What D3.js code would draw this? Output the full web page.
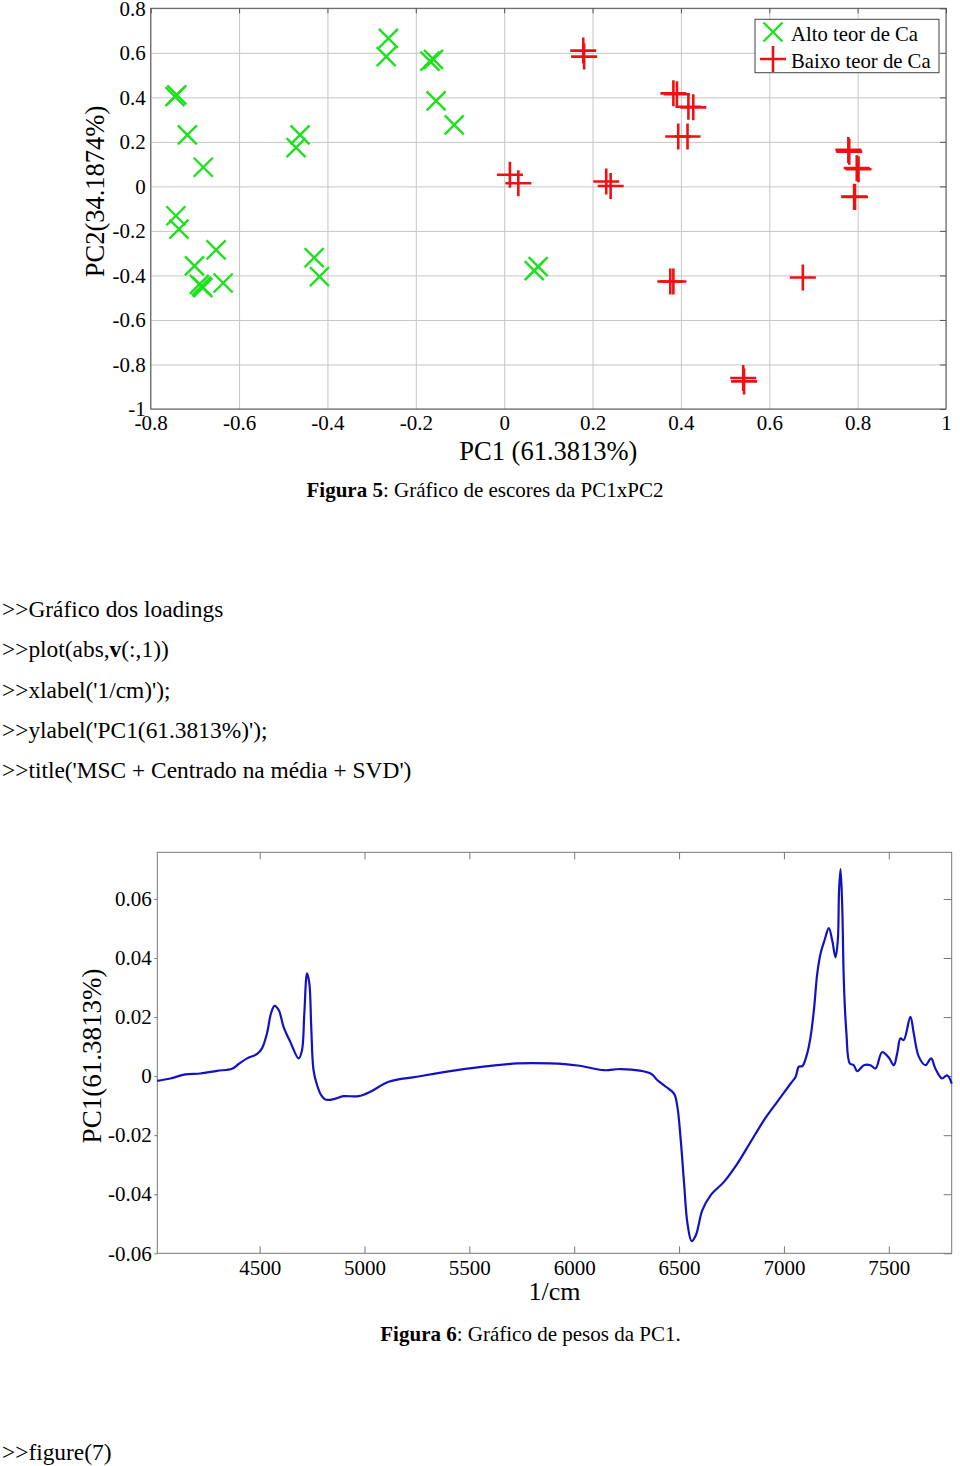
<!DOCTYPE html>
<html>
<head>
<meta charset="utf-8">
<script src="https://cdn.jsdelivr.net/npm/d3@7"></script>
<style>
body { margin: 0; background: #fff; }
text { font-family: "Liberation Serif", "Times New Roman", serif; fill: #000; }
</style>
</head>
<body>
<script>
// ---- scores (Figura 5) ----
var scoreTicksX = [-0.8, -0.6, -0.4, -0.2, 0, 0.2, 0.4, 0.6, 0.8, 1];
var scoreTicksY = [-1, -0.8, -0.6, -0.4, -0.2, 0, 0.2, 0.4, 0.6, 0.8];

var altoPC1 = [-0.745, -0.741, -0.717, -0.681, -0.743, -0.736, -0.652, -0.701, -0.690, -0.685, -0.682, -0.636,
    -0.462, -0.471, -0.430, -0.418, -0.262, -0.267, -0.168, -0.160, -0.154, -0.113, 0.068, 0.077];
var altoPC2 = [0.403, 0.411, 0.231, 0.086, -0.132, -0.192, -0.285, -0.357, -0.440, -0.448, -0.455, -0.434,
    0.231, 0.174, -0.320, -0.405, 0.665, 0.583, 0.563, 0.571, 0.384, 0.276, -0.378, -0.360];

var baixoPC1 = [0.179, 0.181, 0.013, 0.032, 0.231, 0.241, 0.383, 0.391, 0.417, 0.428, 0.394, 0.415,
    0.376, 0.383, 0.676, 0.541, 0.543, 0.779, 0.781, 0.798, 0.802, 0.792, 0.794];
var baixoPC2 = [0.610, 0.583, 0.052, 0.014, 0.022, 0.002, 0.418, 0.414, 0.358, 0.355, 0.224, 0.224,
    -0.427, -0.427, -0.409, -0.861, -0.876, 0.164, 0.156, 0.082, 0.077, -0.046, -0.048];

var legendNames = ["Alto teor de Ca", "Baixo teor de Ca"];

// ---- loadings (Figura 6) ----
var loadTicksX = [4500, 5000, 5500, 6000, 6500, 7000, 7500];
var loadTicksY = [-0.06, -0.04, -0.02, 0, 0.02, 0.04, 0.06];

var wavenumber = [4011, 4074, 4146, 4217, 4297, 4368, 4400, 4440, 4488, 4511, 4535, 4554, 4571, 4591, 4614, 4646,
    4686, 4702, 4713, 4726, 4737, 4746, 4757, 4774, 4793, 4813, 4853, 4900, 4972, 5028, 5115, 5250, 5409, 5568,
    5727, 5886, 6016, 6143, 6222, 6365, 6397, 6437, 6476, 6492, 6508, 6524, 6540, 6560, 6580, 6611, 6651, 6714,
    6778, 6841, 6905, 6968, 7032, 7056, 7071, 7088, 7111, 7127, 7143, 7159, 7175, 7194, 7214, 7230, 7246, 7257,
    7263, 7270, 7278, 7286, 7298, 7314, 7333, 7349, 7381, 7413, 7437, 7468, 7500, 7524, 7540, 7556, 7571, 7603,
    7619, 7643, 7675, 7702, 7722, 7754, 7778, 7800];
var loading = [-0.0016, -0.0008, 0.0006, 0.0009, 0.0018, 0.0025, 0.0041, 0.0060, 0.0075, 0.0094, 0.0145, 0.0212,
    0.0238, 0.0224, 0.0167, 0.0116, 0.0060, 0.0088, 0.0212, 0.0348, 0.0314, 0.0167, 0.0020, -0.0031, -0.0064,
    -0.0079, -0.0078, -0.0068, -0.0068, -0.0053, -0.0019, -0.0002, 0.0017, 0.0032, 0.0043, 0.0043, 0.0036, 0.0020,
    0.0024, 0.0009, -0.0014, -0.0036, -0.0059, -0.0104, -0.0217, -0.0364, -0.0499, -0.0559, -0.0539, -0.0454,
    -0.0403, -0.0358, -0.0296, -0.0223, -0.0149, -0.0087, -0.0025, -0.0002, 0.0032, 0.0034, 0.0077, 0.0133,
    0.0224, 0.0348, 0.0416, 0.0461, 0.0501, 0.0461, 0.0402, 0.0461, 0.0631, 0.0701, 0.0574, 0.0314, 0.0145,
    0.0043, 0.0037, 0.0017, 0.0037, 0.0037, 0.0026, 0.0081, 0.0063, 0.0037, 0.0077, 0.0128, 0.0122, 0.0201,
    0.0145, 0.0066, 0.0037, 0.0060, 0.0026, -0.0008, 0.0003, -0.0025];

var fontFam = '"Liberation Serif", "Times New Roman", serif';
var green = "#1fe01f", red = "#ee1111", blue = "#1212c4";

var svg = d3.select("body").append("svg").attr("width", 960).attr("height", 1466);
svg.append("rect").attr("width", 960).attr("height", 1466).attr("fill", "#fff");

var fmt = function(d) { return String(d); };

function styleAxis(g, size) {
    g.select(".domain").remove();
    g.attr("font-size", size).attr("font-family", fontFam);
    g.selectAll("text").attr("fill", "#000");
}

/////////////// Figura 5: scores
var x1 = d3.scaleLinear().domain([-0.8, 1]).range([150.7, 946]);
var y1 = d3.scaleLinear().domain([-1, 0.8]).range([409, 8.3]);
var w1 = x1.range()[1] - x1.range()[0], h1 = y1.range()[0] - y1.range()[1];

// grid
svg.append("g").attr("transform", "translate(0," + y1.range()[0] + ")")
    .call(d3.axisBottom(x1).tickValues(scoreTicksX).tickSize(-h1).tickFormat(""))
    .call(g => g.select(".domain").remove())
    .selectAll("line").attr("stroke", "#c6c6c6");
svg.append("g").attr("transform", "translate(" + x1.range()[0] + ",0)")
    .call(d3.axisLeft(y1).tickValues(scoreTicksY).tickSize(-w1).tickFormat(""))
    .call(g => g.select(".domain").remove())
    .selectAll("line").attr("stroke", "#c6c6c6");

// inward ticks on top / right
svg.append("g").attr("transform", "translate(0," + y1.range()[1] + ")")
    .call(d3.axisTop(x1).tickValues(scoreTicksX).tickSize(-5).tickFormat(""))
    .call(g => g.select(".domain").remove())
    .selectAll("line").attr("stroke", "#555");
svg.append("g").attr("transform", "translate(" + x1.range()[1] + ",0)")
    .call(d3.axisRight(y1).tickValues(scoreTicksY).tickSize(-6).tickFormat(""))
    .call(g => g.select(".domain").remove())
    .selectAll("line").attr("stroke", "#555");

svg.append("rect")
    .attr("x", x1.range()[0]).attr("y", y1.range()[1])
    .attr("width", w1).attr("height", h1)
    .attr("fill", "none").attr("stroke", "#555").attr("stroke-width", 1);

// tick labels
svg.append("g").attr("transform", "translate(0," + y1.range()[0] + ")")
    .call(d3.axisBottom(x1).tickValues(scoreTicksX).tickSize(0).tickPadding(6).tickFormat(fmt))
    .call(g => styleAxis(g, 21));
svg.append("g").attr("transform", "translate(" + x1.range()[0] + ",0)")
    .call(d3.axisLeft(y1).tickValues(scoreTicksY).tickSize(0).tickPadding(5).tickFormat(fmt))
    .call(g => styleAxis(g, 21));

// markers
var xMark = function(s) { return "M" + -s + "," + -s + "L" + s + "," + s + "M" + -s + "," + s + "L" + s + "," + -s; };
var plusMark = function(s) { return "M" + -s + ",0L" + s + ",0M0," + -s + "L0," + s; };

svg.append("g").selectAll("path")
    .data(d3.range(altoPC1.length))
    .enter().append("path")
    .attr("d", xMark(9.5))
    .attr("transform", i => "translate(" + x1(altoPC1[i]) + "," + y1(altoPC2[i]) + ")")
    .attr("fill", "none").attr("stroke", green).attr("stroke-width", 2.4);

svg.append("g").selectAll("path")
    .data(d3.range(baixoPC1.length))
    .enter().append("path")
    .attr("d", plusMark(13))
    .attr("transform", i => "translate(" + x1(baixoPC1[i]) + "," + y1(baixoPC2[i]) + ")")
    .attr("fill", "none").attr("stroke", red).attr("stroke-width", 2.6);

// legend
var leg = svg.append("g");
leg.append("rect").attr("x", 755).attr("y", 19.3).attr("width", 184).attr("height", 53.4)
    .attr("fill", "#fff").attr("stroke", "#444");
leg.append("path").attr("d", xMark(9.5)).attr("transform", "translate(773,32)")
    .attr("fill", "none").attr("stroke", green).attr("stroke-width", 2.4);
leg.append("path").attr("d", plusMark(13)).attr("transform", "translate(773,59)")
    .attr("fill", "none").attr("stroke", red).attr("stroke-width", 2.6);
leg.selectAll("text").data(legendNames).enter().append("text")
    .attr("x", 791).attr("y", (d, i) => 41 + i * 26.5)
    .attr("font-size", 20.7).text(d => d);

// axis labels
svg.append("text").attr("x", (x1.range()[0] + x1.range()[1]) / 2).attr("y", 460)
    .attr("text-anchor", "middle").attr("font-size", 26.5).text("PC1 (61.3813%)");
svg.append("text").attr("transform", "translate(104,191.5) rotate(-90)")
    .attr("text-anchor", "middle").attr("font-size", 26.5).text("PC2(34.1874%)");

var cap5 = svg.append("text").attr("x", 485).attr("y", 497).attr("text-anchor", "middle").attr("font-size", 21);
cap5.append("tspan").attr("font-weight", "bold").text("Figura 5");
cap5.append("tspan").text(": Gráfico de escores da PC1xPC2");

/////////////// document text
var docLines = [
    [[">>Gráfico dos loadings", false]],
    [[">>plot(abs,", false], ["v", true], ["(:,1))", false]],
    [[">>xlabel('1/cm)');", false]],
    [[">>ylabel('PC1(61.3813%)');", false]],
    [[">>title('MSC + Centrado na média + SVD')", false]]
];
docLines.forEach(function(parts, i) {
    var t = svg.append("text").attr("x", 2).attr("y", 617 + i * 40.3).attr("font-size", 23.4);
    parts.forEach(function(p) {
        t.append("tspan").attr("font-weight", p[1] ? "bold" : null).text(p[0]);
    });
});
svg.append("text").attr("x", 2).attr("y", 1460).attr("font-size", 23.4).text(">>figure(7)");

/////////////// Figura 6: loadings
var x2 = d3.scaleLinear().domain([4012, 7800]).range([157.3, 951.7]);
var y2 = d3.scaleLinear().domain([-0.06, 0.0758]).range([1253.3, 852.3]);
var w2 = x2.range()[1] - x2.range()[0], h2 = y2.range()[0] - y2.range()[1];

svg.append("rect")
    .attr("x", x2.range()[0]).attr("y", y2.range()[1])
    .attr("width", w2).attr("height", h2)
    .attr("fill", "none").attr("stroke", "#777").attr("stroke-width", 1);

// inward ticks
svg.append("g").attr("transform", "translate(0," + y2.range()[0] + ")")
    .call(d3.axisBottom(x2).tickValues(loadTicksX).tickSize(-7).tickFormat(""))
    .call(g => g.select(".domain").remove())
    .selectAll("line").attr("stroke", "#777");
svg.append("g").attr("transform", "translate(0," + y2.range()[1] + ")")
    .call(d3.axisTop(x2).tickValues(loadTicksX).tickSize(-7).tickFormat(""))
    .call(g => g.select(".domain").remove())
    .selectAll("line").attr("stroke", "#777");
svg.append("g").attr("transform", "translate(" + x2.range()[1] + ",0)")
    .call(d3.axisRight(y2).tickValues(loadTicksY).tickSize(-8).tickFormat(""))
    .call(g => g.select(".domain").remove())
    .selectAll("line").attr("stroke", "#777");
svg.append("g").attr("transform", "translate(" + x2.range()[0] + ",0)")
    .call(d3.axisLeft(y2).tickValues(loadTicksY).tickSize(3).tickFormat(""))
    .call(g => g.select(".domain").remove())
    .selectAll("line").attr("stroke", "#777");

// tick labels
svg.append("g").attr("transform", "translate(0," + y2.range()[0] + ")")
    .call(d3.axisBottom(x2).tickValues(loadTicksX).tickSize(0).tickPadding(7).tickFormat(fmt))
    .call(g => styleAxis(g, 21));
svg.append("g").attr("transform", "translate(" + x2.range()[0] + ",0)")
    .call(d3.axisLeft(y2).tickValues(loadTicksY).tickSize(0).tickPadding(5.5).tickFormat(fmt))
    .call(g => styleAxis(g, 21));

// curve
var line = d3.line()
    .x(i => x2(wavenumber[i]))
    .y(i => y2(loading[i]))
    .curve(d3.curveCatmullRom.alpha(0.5));
svg.append("path")
    .datum(d3.range(wavenumber.length))
    .attr("d", line)
    .attr("fill", "none").attr("stroke", blue).attr("stroke-width", 2.2);

svg.append("text").attr("x", (x2.range()[0] + x2.range()[1]) / 2).attr("y", 1300)
    .attr("text-anchor", "middle").attr("font-size", 26).text("1/cm");
svg.append("text").attr("transform", "translate(101,1056) rotate(-90)")
    .attr("text-anchor", "middle").attr("font-size", 27).text("PC1(61.3813%)");

var cap6 = svg.append("text").attr("x", 530.5).attr("y", 1341).attr("text-anchor", "middle").attr("font-size", 21);
cap6.append("tspan").attr("font-weight", "bold").text("Figura 6");
cap6.append("tspan").text(": Gráfico de pesos da PC1.");
</script>
</body>
</html>
